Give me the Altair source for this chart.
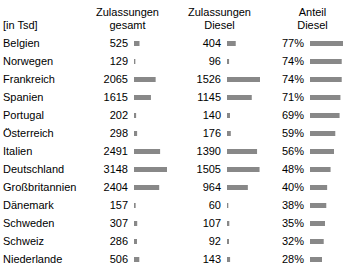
import altair as alt
import pandas as pd

countries = ["Belgien", "Norwegen", "Frankreich", "Spanien", "Portugal", "Österreich",
             "Italien", "Deutschland", "Großbritannien", "Dänemark", "Schweden",
             "Schweiz", "Niederlande"]
gesamt = [525, 129, 2065, 1615, 202, 298, 2491, 3148, 2404, 157, 307, 286, 506]
diesel = [404, 96, 1526, 1145, 140, 176, 1390, 1505, 964, 60, 107, 92, 143]
anteil = [77, 74, 74, 71, 69, 59, 56, 48, 40, 38, 35, 32, 28]

header_unit = "[in Tsd]"
header_gesamt = ["Zulassungen", "gesamt"]
header_diesel = ["Zulassungen", "Diesel"]
header_anteil = ["Anteil", "Diesel"]

FONT = "Liberation Sans"
FS = 11
BAR = "#888888"

df = pd.DataFrame({
    "country": countries,
    "gesamt": gesamt,
    "diesel": diesel,
    "anteil": anteil,
    "anteil_lbl": [f"{a}%" for a in anteil],
})

Y = alt.Y("country:N", sort=countries, axis=None,
          scale=alt.Scale(type="point", range=[43.5, 259.5], padding=0))

base = alt.Chart(df)

labels = base.mark_text(align="left", baseline="middle", font=FONT, fontSize=FS,
                        color="#000").encode(x=alt.value(3), y=Y, text="country:N")


def column(field, label_field, dmax, rng):
    sc = alt.Scale(domain=[0, dmax], range=rng, nice=False, zero=True)
    bar = base.mark_bar(color=BAR, size=5).encode(
        x=alt.X(f"{field}:Q", scale=sc, axis=None), y=Y)
    txt = base.mark_text(align="right", baseline="middle", dx=-6, font=FONT,
                         fontSize=FS, color="#000").encode(
        x=alt.datum(0), y=Y, text=f"{label_field}:N")
    return alt.layer(bar, txt)


c1 = column("gesamt", "gesamt", max(gesamt), [134, 167])
c2 = column("diesel", "diesel", max(diesel), [227, 260])
c3 = column("anteil", "anteil_lbl", max(anteil), [310, 343])


def head(text, x, y, align="center"):
    return alt.Chart(pd.DataFrame({"t": [text]})).mark_text(
        align=align, baseline="middle", font=FONT, fontSize=FS, color="#000"
    ).encode(text="t:N", x=alt.value(x), y=alt.value(y))


heads = [
    head(header_unit, 3, 26, "left"),
    head(header_gesamt[0], 127.5, 13), head(header_gesamt[1], 127.5, 26),
    head(header_diesel[0], 219.5, 13), head(header_diesel[1], 219.5, 26),
    head(header_anteil[0], 312.5, 13), head(header_anteil[1], 312.5, 26),
]

chart = alt.layer(labels, c1, c2, c3, *heads).resolve_scale(x="independent").properties(
    width=353, height=269, autosize=alt.AutoSizeParams(type="none"), padding=0,
    background="white"
).configure_view(stroke=None)

chart.save("out.html", embed_options={"renderer": "svg", "actions": False})
